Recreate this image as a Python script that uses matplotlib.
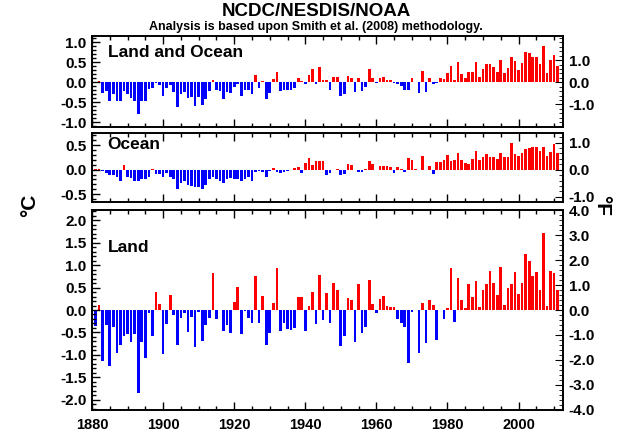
import numpy as np
import matplotlib
matplotlib.use("Agg")
import matplotlib.pyplot as plt
from matplotlib.ticker import MultipleLocator

plt.rcParams['font.family'] = ['Liberation Sans', 'DejaVu Sans']
plt.rcParams['font.weight'] = 'bold'

years = np.arange(1880, 2012)

land_ocean = [
    -0.02, -0.02, 0.03, -0.28, -0.22, -0.46, -0.30, -0.46, -0.46, -0.22,
    -0.30, -0.40, -0.46, -0.79, -0.46, -0.47, -0.18, -0.14, -0.02, -0.08,
    -0.35, -0.15, -0.08, -0.25, -0.62, -0.30, -0.24, -0.39, -0.36, -0.60,
    -0.38, -0.58, -0.42, -0.22, 0.05, -0.20, -0.22, -0.43, -0.24, -0.26,
    -0.13, -0.04, -0.35, -0.20, -0.20, -0.30, 0.18, -0.14, 0.03, -0.41,
    -0.26, 0.08, 0.26, -0.22, -0.20, -0.20, -0.20, -0.14, 0.12, 0.04,
    -0.05, 0.19, 0.33, -0.05, 0.39, 0.05, 0.07, -0.20, 0.14, 0.14,
    -0.35, -0.30, 0.15, 0.11, -0.24, 0.12, -0.22, -0.13, 0.33, 0.12,
    -0.03, 0.12, 0.13, 0.05, 0.05, -0.03, -0.04, -0.09, -0.20, -0.20,
    0.12, 0.01, -0.28, 0.28, -0.25, 0.10, -0.05, -0.02, 0.12, 0.08,
    0.24, 0.41, 0.06, 0.50, 0.22, 0.10, 0.26, 0.26, 0.52, 0.14,
    0.33, 0.45, 0.47, 0.39, 0.26, 0.57, 0.24, 0.37, 0.64, 0.54,
    0.31, 0.48, 0.75, 0.73, 0.63, 0.63, 0.46, 0.92, 0.24, 0.57,
    0.69, 0.41,
]

ocean = [
    -0.02, 0.02, 0.02, -0.02, -0.07, -0.10, -0.10, -0.14, -0.24, 0.09,
    -0.14, -0.17, -0.24, -0.24, -0.20, -0.20, -0.14, 0.01, -0.09, -0.09,
    -0.14, -0.07, -0.14, -0.20, -0.39, -0.27, -0.24, -0.31, -0.34, -0.35,
    -0.35, -0.39, -0.31, -0.20, -0.14, -0.20, -0.24, -0.27, -0.20, -0.17,
    -0.20, -0.19, -0.24, -0.20, -0.14, -0.24, -0.05, -0.03, -0.05, -0.14,
    -0.03, 0.03, -0.05, -0.07, -0.05, -0.03, -0.01, 0.03, 0.05, -0.07,
    0.14, 0.24, 0.10, 0.18, 0.18, 0.17, -0.10, -0.07, -0.01, 0.01,
    -0.10, -0.09, 0.12, 0.10, -0.01, -0.05, -0.05, 0.01, 0.17, 0.12,
    -0.01, 0.07, 0.08, 0.07, 0.05, -0.07, 0.05, 0.01, -0.05, 0.23,
    0.19, 0.01, -0.01, 0.29, -0.01, 0.08, -0.09, 0.16, 0.16, 0.19,
    0.30, 0.18, 0.20, 0.34, 0.20, 0.14, 0.12, 0.21, 0.39, 0.20,
    0.26, 0.33, 0.26, 0.26, 0.21, 0.34, 0.26, 0.26, 0.54, 0.33,
    0.28, 0.34, 0.43, 0.45, 0.47, 0.46, 0.38, 0.47, 0.28, 0.37,
    0.52, 0.35,
]

land = [
    -0.02, -0.35, 0.12, -1.13, -0.33, -1.24, -0.37, -0.97, -0.79, -0.59,
    -0.53, -0.72, -0.53, -1.86, -0.72, -1.08, -0.06, -0.57, 0.40, 0.14,
    -0.99, -0.31, 0.33, -0.11, -0.77, -0.17, -0.07, -0.48, -0.15, -0.82,
    -0.04, -0.69, -0.33, -0.17, 0.83, -0.19, -0.01, -0.46, -0.33, -0.51,
    0.18, 0.52, -0.53, -0.02, -0.17, -0.30, 0.75, -0.28, 0.31, -0.77,
    -0.51, 0.15, 0.94, -0.46, -0.28, -0.42, -0.44, -0.41, 0.28, 0.29,
    -0.47, 0.08, 0.40, -0.32, 0.78, -0.22, 0.37, -0.28, 0.61, 0.45,
    -0.81, -0.59, 0.27, 0.23, -0.71, 0.59, -0.51, -0.37, 0.66, 0.14,
    -0.06, 0.24, 0.32, 0.08, 0.07, 0.07, -0.19, -0.29, -0.39, -1.18,
    -0.04, 0.01, -0.96, 0.16, -0.73, 0.23, 0.12, -0.68, 0.01, -0.20,
    0.04, 0.94, -0.26, 0.72, 0.23, 0.05, 0.59, 0.28, 0.64, 0.07,
    0.45, 0.57, 0.86, 0.60, 0.33, 0.96, 0.12, 0.50, 0.58, 0.85,
    0.36, 0.61, 1.25, 1.10, 0.75, 0.85, 0.44, 1.72, 0.08, 0.86,
    0.82, 0.45,
]

panel_titles = ["Land and Ocean", "Ocean", "Land"]
xtick_years = [1880, 1900, 1920, 1940, 1960, 1980, 2000]

W, H = 626, 436
fig = plt.figure(figsize=(W / 100, H / 100), dpi=100)


def rect(x0, y0, x1, y1):
    return [x0 / W, 1 - y1 / H, (x1 - x0) / W, (y1 - y0) / H]


panels = [
    dict(data=land_ocean, rect=rect(92, 36, 563, 127), ylim=(-1.12, 1.16),
         cmaj=0.5, cmin=0.1, fmin=0.2, flabels=[-1.0, 0.0, 1.0],
         label_y=0.82),
    dict(data=ocean, rect=rect(92, 133, 563, 202), ylim=(-0.66, 0.75),
         cmaj=0.5, cmin=0.1, fmin=0.2, flabels=[-1.0, 0.0, 1.0],
         label_y=0.83),
    dict(data=land, rect=rect(92, 210, 563, 410), ylim=(-2.23, 2.23),
         cmaj=0.5, cmin=0.1, fmin=0.2,
         flabels=[-4.0, -3.0, -2.0, -1.0, 0.0, 1.0, 2.0, 3.0, 4.0],
         label_y=0.815),
]

for i, p in enumerate(panels):
    ax = fig.add_axes(p['rect'])
    vals = np.array(p['data'])
    colors = np.where(vals >= 0, '#ff0000', '#0000ff')
    ax.bar(years, vals, width=0.75, color=colors, linewidth=0)
    ax.set_xlim(1880, 2012.5)
    for s in ax.spines.values():
        s.set_linewidth(1.2)
    ax.xaxis.set_major_locator(MultipleLocator(20))
    ax.xaxis.set_minor_locator(MultipleLocator(5))
    ax.yaxis.set_major_locator(MultipleLocator(p['cmaj']))
    ax.yaxis.set_minor_locator(MultipleLocator(p['cmin']))
    ax.set_ylim(*p['ylim'])
    ax.tick_params(axis='both', which='both', direction='in', top=True,
                   right=False, width=1.0)
    ax.tick_params(axis='both', which='major', length=6)
    ax.tick_params(axis='both', which='minor', length=3)
    ax.tick_params(axis='y', labelsize=11, pad=4)
    yt = [t for t in ax.get_yticks() if p['ylim'][0] <= t <= p['ylim'][1]]
    ax.set_yticks(yt)
    ax.set_yticklabels([f"{t:.1f}" for t in yt], fontweight='bold')
    ax.set_ylim(*p['ylim'])
    if i < 2:
        ax.tick_params(axis='x', labelbottom=False)
    else:
        ax.set_xticks(xtick_years)
        ax.set_xticklabels([str(y) for y in xtick_years], fontsize=10.5,
                           fontweight='bold')
        ax.tick_params(axis='x', pad=6)
    ax.text(0.033, p['label_y'], panel_titles[i], transform=ax.transAxes,
            fontsize=12.5, fontweight='bold', va='center', ha='left')

    ax2 = ax.twinx()
    flim = (p['ylim'][0] * 1.8, p['ylim'][1] * 1.8)
    ax2.set_yticks(p['flabels'])
    ax2.set_yticklabels([f"{t:.1f}" for t in p['flabels']], fontsize=11,
                        fontweight='bold')
    ax2.yaxis.set_minor_locator(MultipleLocator(p['fmin']))
    ax2.set_ylim(*flim)
    ax2.tick_params(axis='y', which='both', direction='in', pad=4)
    ax2.tick_params(axis='y', which='major', length=6)
    ax2.tick_params(axis='y', which='minor', length=3)
    for s in ax2.spines.values():
        s.set_linewidth(1.2)

fig.text(316 / W, 1 - 11 / H, "NCDC/NESDIS/NOAA", ha='center', va='center',
         fontsize=13.5, fontweight='bold')
fig.text(316 / W, 1 - 27 / H,
         "Analysis is based upon Smith et al. (2008) methodology.",
         ha='center', va='center', fontsize=9, fontweight='bold')
fig.text(30 / W, 1 - 205 / H, "°C", ha='center', va='center', rotation=90,
         fontsize=15, fontweight='bold')
fig.text(602 / W, 1 - 205 / H, "°F", ha='center', va='center', rotation=270,
         fontsize=15, fontweight='bold')

fig.savefig("out.png", dpi=100)
